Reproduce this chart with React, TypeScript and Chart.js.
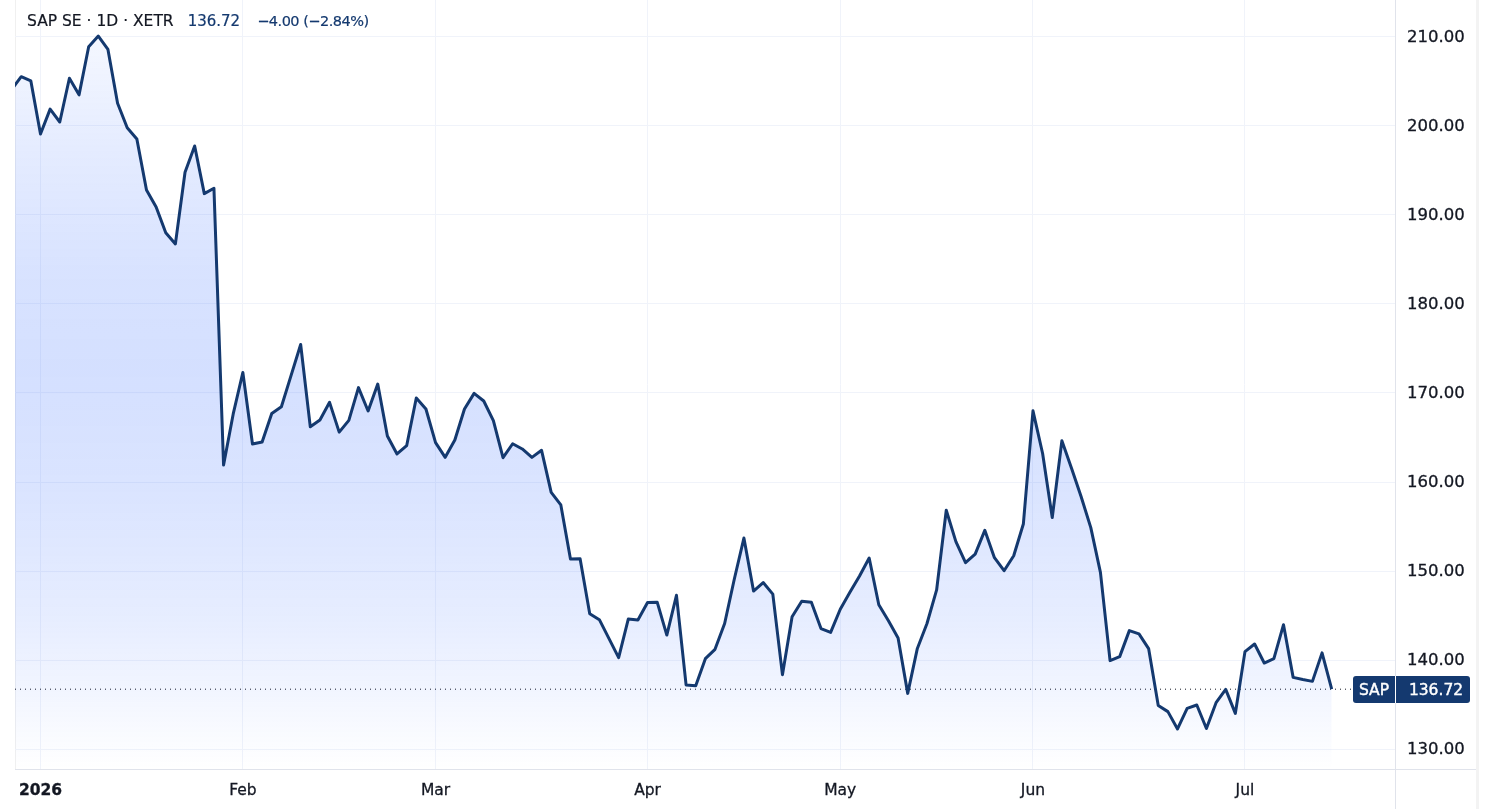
import { useEffect, useRef } from 'react'
import { Chart, registerables } from 'chart.js'

Chart.register(...registerables)

// daily closes, first entry is cut off by the left edge of the plot
const closes = [
  204.08, 205.54, 205.06, 199.1, 201.9, 200.45, 205.36, 203.5, 208.9, 210.1,
  208.6, 202.55, 199.8, 198.55, 192.8, 190.9, 188.0, 186.75, 194.8, 197.75,
  192.4, 193.0, 161.9, 167.65, 172.3, 164.27, 164.5, 167.7, 168.45, 171.95,
  175.45, 166.2, 166.97, 168.95, 165.6, 166.93, 170.6, 167.98, 171.0, 165.17,
  163.15, 164.08, 169.44, 168.2, 164.42, 162.77, 164.72, 168.2, 169.96, 169.1,
  166.89, 162.73, 164.3, 163.71, 162.77, 163.56, 158.84, 157.42, 151.35, 151.38,
  145.2, 144.53, 142.4, 140.27, 144.6, 144.5, 146.47, 146.5, 142.8, 147.27,
  137.2, 137.1, 140.15, 141.2, 144.1, 149.07, 153.7, 147.75, 148.7, 147.4,
  138.35, 144.86, 146.6, 146.48, 143.53, 143.1, 145.7, 147.6, 149.44, 151.46,
  146.2, 144.4, 142.47, 136.25, 141.3, 144.1, 147.87, 156.82, 153.3, 150.93,
  151.9, 154.57, 151.5, 150.03, 151.72, 155.28, 168.0, 163.2, 156.0, 164.64,
  161.55, 158.35, 154.87, 149.85, 139.93, 140.38, 143.3, 142.93, 141.28, 134.9,
  134.2, 132.25, 134.57, 134.94, 132.3, 135.2, 136.7, 134.0, 140.94, 141.8,
  139.66, 140.15, 143.97, 138.05, 137.8, 137.6, 140.8, 136.72,
]
const lastPrice = 136.72
const xTickIndex = [3, 24, 44, 66, 86, 106, 128]
const xTickLabels = ['2026', 'Feb', 'Mar', 'Apr', 'May', 'Jun', 'Jul']
const yTickValues = [130, 140, 150, 160, 170, 180, 190, 200, 210]

const xMin = 0.354
const xMax = 143.57
const yMin = 127.753
const yMax = 214.157

const navy = '#14396f'
const textColor = '#131722'
const gridColor = '#f0f3fa'
const frameColor = '#e0e3eb'
const font = '"DejaVu Sans", sans-serif'

// position on the plot height / alpha of the blue fill
const fillStops: [number, number][] = [
  [0.03, 0.04],
  [0.2, 0.127],
  [0.35, 0.18],
  [0.48, 0.2],
  [0.65, 0.17],
  [0.806, 0.115],
  [0.91, 0.055],
  [1, 0],
]

const framePlugin = {
  id: 'frame',
  beforeDraw(chart: Chart) {
    const { ctx, chartArea, width } = chart
    ctx.save()
    ctx.fillStyle = '#f0f0f0'
    ctx.fillRect(chartArea.left, 0, 1, chartArea.bottom)
    ctx.fillStyle = '#f3f3f3'
    ctx.fillRect(width - 15, 0, 3, chart.height)
    ctx.fillStyle = frameColor
    ctx.fillRect(chartArea.left, chartArea.bottom, width - 15 - chartArea.left, 1)
    ctx.fillRect(chartArea.right, 0, 1, chart.height)
    ctx.restore()
  },
}

const priceTagPlugin = {
  id: 'priceTag',
  afterDraw(chart: Chart) {
    const { ctx, chartArea } = chart
    const y = chart.scales.y.getPixelForValue(lastPrice)
    const h = 27
    const top = Math.round(y - h / 2)
    ctx.save()
    ctx.fillStyle = navy
    ctx.beginPath()
    ctx.roundRect(chartArea.right - 42, top, 117, h, 3)
    ctx.fill()
    ctx.fillStyle = '#ffffff'
    ctx.fillRect(chartArea.right, top, 1, h)
    ctx.font = '15.5px ' + font
    ctx.textAlign = 'center'
    ctx.textBaseline = 'middle'
    ctx.strokeStyle = '#ffffff'
    ctx.lineWidth = 0.4
    ctx.fillText('SAP', chartArea.right - 21, top + h / 2 + 1)
    ctx.strokeText('SAP', chartArea.right - 21, top + h / 2 + 1)
    ctx.fillText(lastPrice.toFixed(2), chartArea.right + 41, top + h / 2 + 1)
    ctx.strokeText(lastPrice.toFixed(2), chartArea.right + 41, top + h / 2 + 1)
    ctx.restore()
  },
}

export default function App() {
  const chartRef = useRef<HTMLCanvasElement>(null)

  useEffect(() => {
    if (!chartRef.current) return
    const chart = new Chart(chartRef.current, {
      type: 'line',
      data: {
        datasets: [
          {
            data: closes.map((c, i) => ({ x: i, y: c })),
            borderColor: navy,
            borderWidth: 3,
            borderJoinStyle: 'round',
            pointRadius: 0,
            tension: 0,
            fill: 'start',
            backgroundColor: (context: any) => {
              const area = context.chart.chartArea
              if (!area) return 'transparent'
              const g = context.chart.ctx.createLinearGradient(0, area.top, 0, area.bottom)
              fillStops.forEach(([pos, alpha]) => g.addColorStop(pos, `rgba(41, 98, 255, ${alpha})`))
              return g
            },
          },
          {
            data: [
              { x: xMin, y: lastPrice },
              { x: xMax, y: lastPrice },
            ],
            borderColor: textColor,
            borderWidth: 1,
            borderDash: [1, 4],
            pointRadius: 0,
            fill: false,
          },
        ],
      },
      options: {
        animation: false,
        responsive: false,
        devicePixelRatio: 1,
        layout: { autoPadding: false, padding: { left: 15, right: 15, top: 0, bottom: 0 } },
        plugins: { legend: { display: false }, tooltip: { enabled: false }, title: { display: false } },
        scales: {
          x: {
            type: 'linear',
            min: xMin,
            max: xMax,
            afterBuildTicks: (scale: any) => {
              scale.ticks = xTickIndex.map((value) => ({ value }))
            },
            afterFit: (scale: any) => {
              scale.height = 40
              scale.paddingLeft = 0
              scale.paddingRight = 0
            },
            grid: { color: gridColor, drawTicks: false },
            border: { display: false },
            ticks: {
              autoSkip: false,
              maxRotation: 0,
              padding: 13,
              color: textColor,
              textStrokeColor: textColor,
              textStrokeWidth: 0.3,
              callback: (_v: any, i: number) => xTickLabels[i],
              font: (context: any) => ({
                family: font,
                size: 15.5,
                weight: context.index === 0 ? 'bold' : 'normal',
              }),
            },
          },
          y: {
            position: 'right',
            min: yMin,
            max: yMax,
            afterBuildTicks: (scale: any) => {
              scale.ticks = yTickValues.map((value) => ({ value }))
            },
            afterFit: (scale: any) => {
              scale.width = 81
              scale.paddingTop = 0
              scale.paddingBottom = 0
            },
            grid: { color: gridColor, drawTicks: false },
            border: { display: false },
            ticks: {
              autoSkip: false,
              padding: 12,
              labelOffset: 1,
              color: textColor,
              textStrokeColor: textColor,
              textStrokeWidth: 0.3,
              callback: (v: any) => Number(v).toFixed(2),
              font: { family: font, size: 16.5 },
            },
          },
        },
      },
      plugins: [framePlugin, priceTagPlugin],
    } as any)
    return () => {
      chart.destroy()
    }
  }, [])

  return (
    <div style={{ position: 'fixed', left: 0, top: 0, width: 1491, height: 809, background: '#ffffff', overflow: 'hidden' }}>
      <canvas ref={chartRef} width={1491} height={809} style={{ display: 'block' }} />
      <div
        style={{
          position: 'absolute',
          left: 27,
          top: 12,
          fontFamily: font,
          fontSize: 15.5,
          lineHeight: '18px',
          whiteSpace: 'pre',
          color: textColor,
          WebkitTextStroke: '0.2px',
        }}
      >
        SAP SE · 1D · XETR
        <span style={{ color: navy, fontSize: 15, marginLeft: 14 }}>136.72</span>
        <span style={{ color: navy, fontSize: 14.5, letterSpacing: '-0.5px', marginLeft: 17 }}>−4.00 (−2.84%)</span>
      </div>
    </div>
  )
}
